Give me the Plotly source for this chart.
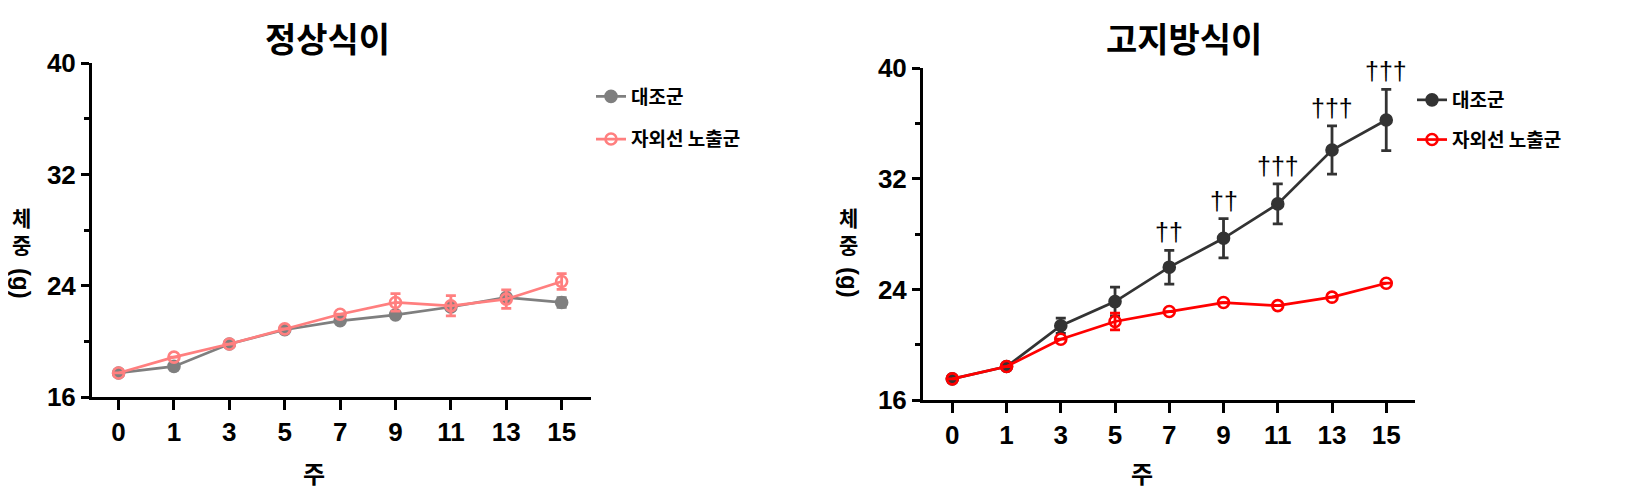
import plotly.graph_objects as go

# ---------------- data ----------------
weeks = ["0", "1", "3", "5", "7", "9", "11", "13", "15"]

normal_ctrl = [17.73, 18.20, 19.81, 20.84, 21.48, 21.91, 22.47, 23.16, 22.80]
normal_ctrl_err = [0.0, 0.25, 0.0, 0.0, 0.15, 0.15, 0.2, 0.2, 0.35]
normal_uv = [17.73, 18.87, 19.81, 20.90, 21.95, 22.80, 22.56, 23.04, 24.31]
normal_uv_err = [0.0, 0.0, 0.0, 0.0, 0.0, 0.63, 0.73, 0.67, 0.57]

hfd_ctrl = [17.53, 18.42, 21.37, 23.12, 25.61, 27.70, 30.19, 34.09, 36.26]
hfd_ctrl_err = [0.0, 0.0, 0.55, 1.04, 1.22, 1.42, 1.45, 1.75, 2.22]
hfd_uv = [17.53, 18.42, 20.40, 21.68, 22.40, 23.05, 22.83, 23.44, 24.45]
hfd_uv_err = [0.0, 0.0, 0.0, 0.6, 0.0, 0.0, 0.0, 0.0, 0.0]
hfd_sig = ["", "", "", "", "††", "††", "†††", "†††", "†††"]

titles = ["정상식이", "고지방식이"]
series_names = ["대조군", "자외선 노출군"]
x_title = "주"
y_title_top = "체<br>중"
y_title_unit = "(g)"
y_ticks = [16, 24, 32, 40]

# ---------------- style ----------------
W, H = 1638, 504
OFF = 8  # page body margin
KR = "Noto Sans CJK KR"
NUM = "Liberation Sans, Arial, sans-serif"

def px_x(p):
    return (p - OFF) / W

def px_y(p):
    return 1 - (p - OFF) / H

fig = go.Figure()

def add_series(y, err, name, color, filled, xa, ya, legend):
    fig.add_trace(go.Scatter(
        x=weeks, y=y, name=name, mode="lines+markers",
        xaxis=xa, yaxis=ya, legend=legend, legendgroup=legend + name,
        line=dict(color=color, width=2.7),
        marker=dict(
            symbol="circle" if filled else "circle-open",
            size=11,
            color=color,
            line=dict(color=color, width=2.6),
        ),
        error_y=dict(type="data", array=err, visible=True, color=color,
                     thickness=2.8, width=5),
        cliponaxis=False,
    ))

add_series(normal_ctrl, normal_ctrl_err, series_names[0], "#7f7f7f", True, "x", "y", "legend")
add_series(normal_uv, normal_uv_err, series_names[1], "#ff7f7f", False, "x", "y", "legend")
add_series(hfd_ctrl, hfd_ctrl_err, series_names[0], "#333333", True, "x2", "y2", "legend2")
add_series(hfd_uv, hfd_uv_err, series_names[1], "#ff0000", False, "x2", "y2", "legend2")

axis_common = dict(
    showline=True, linecolor="black", linewidth=3, mirror=False,
    ticks="outside", tickcolor="black", tickwidth=3,
    showgrid=False, zeroline=False, automargin=False,
    tickfont=dict(family=NUM, size=26, color="black", weight="bold"),
)

fig.update_layout(
    width=W, height=H, autosize=False,
    margin=dict(l=0, r=0, t=0, b=0, pad=0),
    paper_bgcolor="white", plot_bgcolor="white",
    showlegend=True,
    xaxis=dict(domain=[px_x(92), px_x(591)], type="category",
               range=[-0.48, 8.53], ticklen=10, anchor="y", **axis_common),
    yaxis=dict(domain=[px_y(397), px_y(63.3)], range=[16, 40],
               tickvals=y_ticks, ticklen=8, anchor="x",
               minor=dict(dtick=4, tick0=16, ticks="outside", ticklen=5,
                          tickwidth=3, tickcolor="black"),
               **axis_common),
    xaxis2=dict(domain=[px_x(923), px_x(1415)], type="category",
                range=[-0.54, 8.53], ticklen=10, anchor="y2", **axis_common),
    yaxis2=dict(domain=[px_y(400), px_y(68.3)], range=[16, 40],
                tickvals=y_ticks, ticklen=8, anchor="x2",
                minor=dict(dtick=4, tick0=16, ticks="outside", ticklen=5,
                           tickwidth=3, tickcolor="black"),
                **axis_common),
    legend=dict(x=px_x(591), y=px_y(77.5), xanchor="left", yanchor="top",
                traceorder="grouped", tracegroupgap=15,
                bgcolor="rgba(0,0,0,0)",
                font=dict(family=KR, size=19, color="black", weight="bold")),
    legend2=dict(x=px_x(1412), y=px_y(81), xanchor="left", yanchor="top",
                 traceorder="grouped", tracegroupgap=12,
                 bgcolor="rgba(0,0,0,0)",
                 font=dict(family=KR, size=19, color="black", weight="bold")),
)

ann = []
# panel titles
for t, cx in zip(titles, [327.5, 1183.5]):
    ann.append(dict(text=t, x=px_x(cx), y=px_y(37), xref="paper", yref="paper",
                    xanchor="center", yanchor="middle", showarrow=False,
                    font=dict(family=KR, size=34, color="black", weight="bold")))
# x titles
for cx in [314, 1142]:
    ann.append(dict(text=x_title, x=px_x(cx), y=px_y(472), xref="paper", yref="paper",
                    xanchor="center", yanchor="middle", showarrow=False,
                    font=dict(family=KR, size=24, color="black", weight="bold")))
# y titles (stacked hangul + rotated unit)
for cx in [21, 849]:
    ann.append(dict(text=y_title_top, x=px_x(cx), y=px_y(230), xref="paper", yref="paper",
                    xanchor="center", yanchor="middle", showarrow=False,
                    font=dict(family=KR, size=21, color="black", weight="bold")))
    ann.append(dict(text=y_title_unit, x=px_x(cx + 1), y=px_y(283), xref="paper", yref="paper",
                    xanchor="center", yanchor="middle", showarrow=False, textangle=90,
                    font=dict(family=NUM, size=24, color="black", weight="bold")))
# significance marks
for i, (m, e, s) in enumerate(zip(hfd_ctrl, hfd_ctrl_err, hfd_sig)):
    if s:
        ann.append(dict(text=s, x=i, y=m + e, xref="x2", yref="y2",
                        xanchor="center", yanchor="bottom", yshift=2, showarrow=False,
                        font=dict(family="Liberation Sans, Arial", size=25, color="black")))

fig.update_layout(annotations=ann)

fig.write_html("out.html")
